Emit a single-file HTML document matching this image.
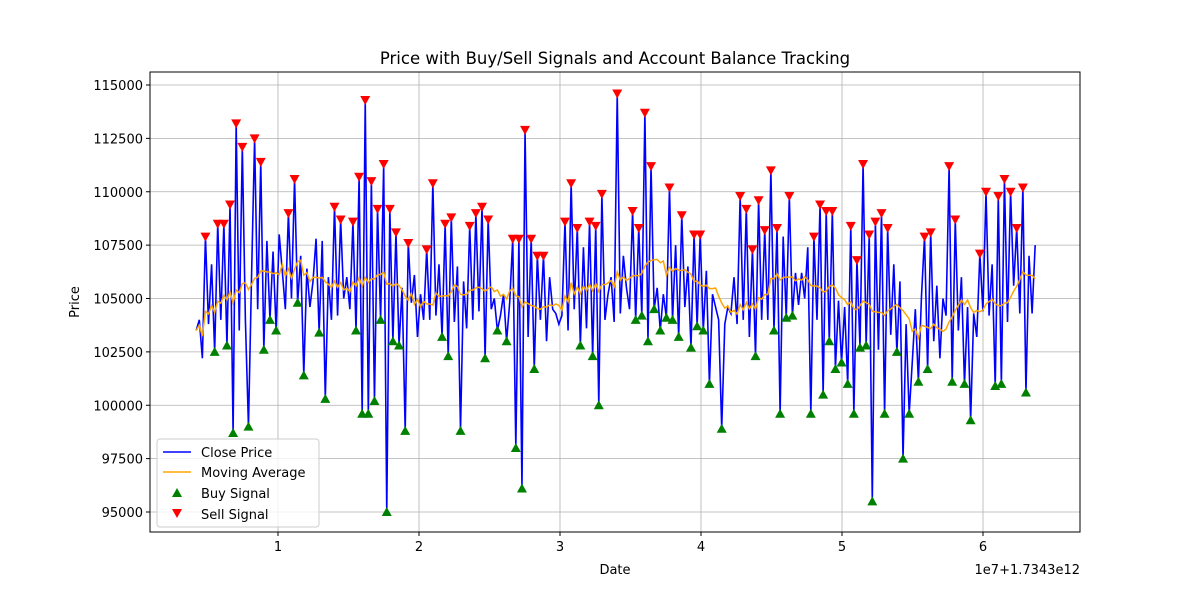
<!DOCTYPE html>
<html><head><meta charset="utf-8"><style>
body{margin:0;background:#fff;}
svg{display:block;font-family:"DejaVu Sans","Liberation Sans",sans-serif;}
</style></head><body>
<svg id="chart" width="1200" height="600" viewBox="0 0 1200 600" xmlns="http://www.w3.org/2000/svg">
<rect width="1200" height="600" fill="#fff"/>
<g id="grid"></g>
<g id="plot"></g>
<rect x="150" y="72" width="930" height="460" fill="none" stroke="#000" stroke-width="1"/>
<g id="axes"></g>
<text x="615" y="64" text-anchor="middle" font-size="16.5">Price with Buy/Sell Signals and Account Balance Tracking</text>
<text x="615" y="574" text-anchor="middle" font-size="13">Date</text>
<text x="1080" y="574" text-anchor="end" font-size="13">1e7+1.7343e12</text>
<text transform="translate(79,302) rotate(-90)" text-anchor="middle" font-size="13">Price</text>
<g>
<rect x="157" y="439" width="162" height="88" rx="3" fill="#fff" fill-opacity="0.8" stroke="#ccc"/>
<line x1="163" y1="452" x2="191" y2="452" stroke="blue" stroke-width="1.5"/>
<text x="201" y="457" font-size="13">Close Price</text>
<line x1="163" y1="472" x2="191" y2="472" stroke="orange" stroke-width="1.5"/>
<text x="201" y="477" font-size="13">Moving Average</text>
<polygon points="177,488 182,497 172,497" fill="green"/>
<text x="201" y="498" font-size="13">Buy Signal</text>
<polygon points="172,509 182,509 177,518" fill="red"/>
<text x="201" y="519" font-size="13">Sell Signal</text>
</g>
</svg>
<script>
const xTicks=[1,2,3,4,5,6];
const yTicks=[95000,97500,100000,102500,105000,107500,110000,112500,115000];
const xStart=0.42, xEnd=6.37;
const closeK=[103.5,104,102.2,107.9,103.8,106.6,102.5,108.5,104,108.5,102.8,109.4,98.7,113.2,103.5,112.1,104,99,106,112.5,104.5,111.4,102.6,107.7,104,107.2,103.5,108,106.3,104.5,109,105,110.6,104.8,107,101.4,106.4,104.6,105.8,107.8,103.4,107.7,100.3,106,104,109.3,104.2,108.7,105,106,104.5,108.6,103.5,110.7,99.6,114.3,99.6,110.5,100.2,109.2,104,111.3,95,109.2,103,108.1,102.8,105.5,98.8,107.6,104.8,106.1,103.2,105.2,104,107.3,104,110.4,104.2,106.6,103.2,108.5,102.3,108.8,103.9,106.5,98.8,105.8,103.6,108.4,104,109,104.4,109.3,102.2,108.7,104.5,105,103.5,104.2,105.2,103,104.8,107.8,98,107.8,96.1,112.9,103.2,107.8,101.7,107,104,107,103,106,104.5,104.3,103.8,104.2,108.6,103.5,110.4,104.5,108.3,102.8,107.4,103.6,108.6,102.3,108.4,100,109.9,104,105.2,106,103.9,114.6,104.3,107,105.5,104.5,109.1,104,108.3,104.2,113.7,103,111.2,104.5,105.5,103.5,105.2,104.1,110.2,104,107.5,103.2,108.9,104.6,106.5,102.7,108,103.7,108,103.5,106.3,101,105.2,104.6,104,98.9,103.8,104.6,104.3,106,103.8,109.8,104,109.2,103.2,107.3,102.3,109.6,104,108.2,104,111,103.5,108.3,99.6,107.9,104.1,109.8,104.2,106.2,104.7,106.2,105,107.4,99.6,107.9,104,109.4,100.5,109.1,103,109.1,101.7,104.9,102,104.6,101,108.4,99.6,106.8,102.7,111.3,102.8,108,95.5,108.6,102.6,109,99.6,108.3,103.3,106.6,102.5,105.8,97.5,103.8,99.6,102,104.5,101.1,105.1,107.9,101.7,108.1,103,105.6,102.2,105,104.2,111.2,101.1,108.7,103.5,106,101,104.6,99.3,104.3,103.2,107.1,104.4,110,104.2,106.6,100.9,109.8,101,110.6,103.9,110,105.6,108.3,104.3,110.2,100.6,107,104.3,107.5];
const maWindow=16;
const NS="http://www.w3.org/2000/svg";
const X0=150,X1=1080,Y0=72,Y1=532;
function xs(v){return 278+(v-1)*141;}
function ys(v){return 512-(v-95000)*427/20000;}
function mk(t,a){const e=document.createElementNS(NS,t);for(const k in a)e.setAttribute(k,a[k]);return e;}
const grid=document.getElementById('grid'),axes=document.getElementById('axes'),plot=document.getElementById('plot');
xTicks.forEach(t=>{const x=xs(t);
 const g=mk('line',{x1:x,x2:x,y1:Y0,y2:Y1,stroke:'#b0b0b0','stroke-width':0.8});grid.appendChild(g);
 const tk=mk('line',{x1:x,x2:x,y1:Y1,y2:Y1+4,stroke:'#000'});axes.appendChild(tk);
 const tx=mk('text',{x:x,y:Y1+19,'text-anchor':'middle','font-size':13});tx.textContent=t;axes.appendChild(tx);});
yTicks.forEach(t=>{const y=ys(t);
 const g=mk('line',{x1:X0,x2:X1,y1:y,y2:y,stroke:'#b0b0b0','stroke-width':0.8});grid.appendChild(g);
 const tk=mk('line',{x1:X0-4,x2:X0,y1:y,y2:y,stroke:'#000'});axes.appendChild(tk);
 const tx=mk('text',{x:X0-7,y:y+5,'text-anchor':'end','font-size':13});tx.textContent=t;axes.appendChild(tx);});
const n=closeK.length;
const xv=closeK.map((_,i)=>xStart+(xEnd-xStart)*i/(n-1));
const cl=closeK.map(v=>v*1000);
const ma=cl.map((_,i)=>{const s=Math.max(0,i-maWindow+1);let a=0;for(let j=s;j<=i;j++)a+=cl[j];return a/(i-s+1);});
const p1=mk('polyline',{points:cl.map((v,i)=>xs(xv[i])+','+ys(v)).join(' '),fill:'none',stroke:'blue','stroke-width':1.6});
plot.appendChild(p1);
const p2=mk('polyline',{points:ma.map((v,i)=>xs(xv[i])+','+ys(v)).join(' '),fill:'none',stroke:'orange','stroke-width':1.5});
plot.appendChild(p2);
for(let i=1;i<n-1;i++){const x=xs(xv[i]),y=ys(cl[i]);
 if(cl[i]>cl[i-1]&&cl[i]>cl[i+1]&&cl[i]>ma[i]+2000){const m=mk('polygon',{points:(x-5)+','+(y-4)+' '+(x+5)+','+(y-4)+' '+x+','+(y+5),fill:'red'});plot.appendChild(m);}
 else if(cl[i]<cl[i-1]&&cl[i]<cl[i+1]&&cl[i]<ma[i]-1800){const m=mk('polygon',{points:x+','+(y-5)+' '+(x+5)+','+(y+4)+' '+(x-5)+','+(y+4),fill:'green'});plot.appendChild(m);}
}
</script>
</body></html>
